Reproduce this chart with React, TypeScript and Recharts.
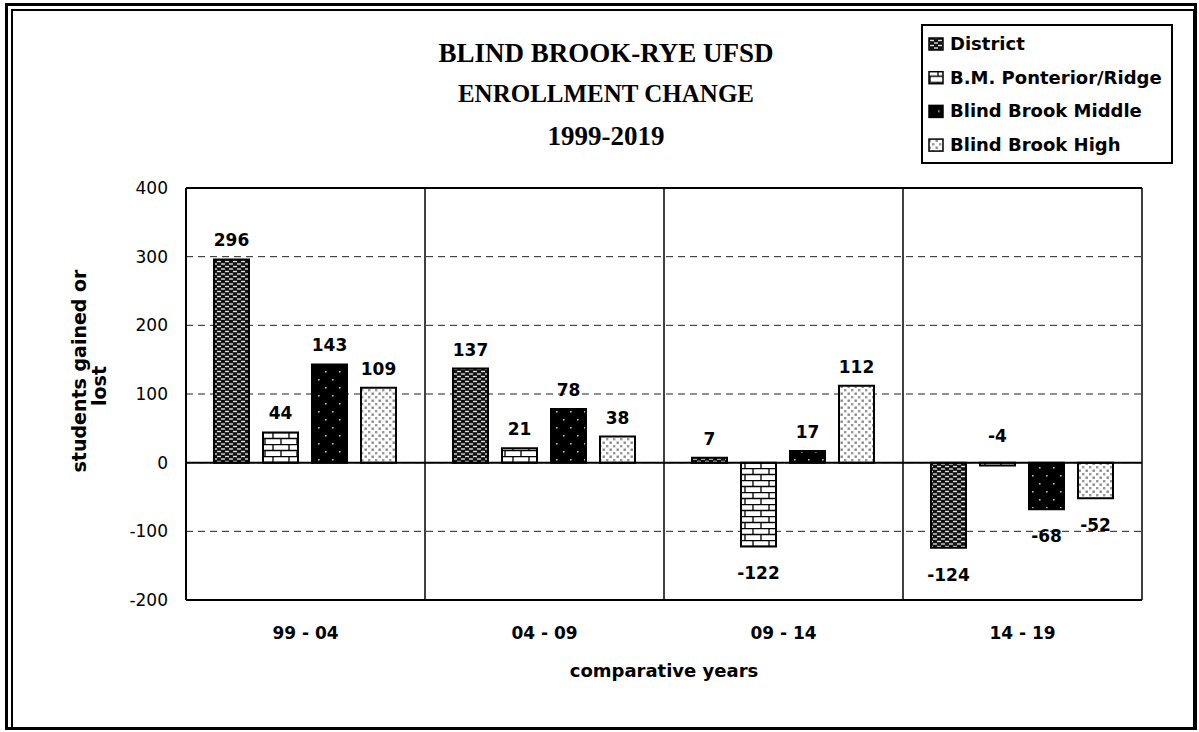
import {
    BarChart,
    Bar,
    XAxis,
    YAxis,
    CartesianGrid,
    ReferenceLine,
    LabelList,
    Legend
} from 'recharts';

const periods = ['99 - 04', '04 - 09', '09 - 14', '14 - 19'];
const district = [296, 137, 7, -124];
const ponterior = [44, 21, -122, -4];
const middle = [143, 78, 17, -68];
const high = [109, 38, 112, -52];
const yTicks = [-200, -100, 0, 100, 200, 300, 400];

const titleLines = ['BLIND BROOK-RYE UFSD', 'ENROLLMENT CHANGE', '1999-2019'];
const seriesNames = ['District', 'B.M. Ponterior/Ridge', 'Blind Brook Middle', 'Blind Brook High'];
const seriesKeys = ['district', 'ponterior', 'middle', 'high'];
const seriesFills = ['url(#patDistrict)', 'url(#patBrick)', 'url(#patMiddle)', 'url(#patHigh)'];

const data = periods.map((p, i) => ({
    period: p,
    district: district[i],
    ponterior: ponterior[i],
    middle: middle[i],
    high: high[i],
}));

const sans = '"DejaVu Sans", "Liberation Sans", Arial, sans-serif';
const serif = '"Liberation Serif", "Times New Roman", serif';

function ValueLabel(props: any) {
    const { x, y, width, height, value } = props;
    const top = Math.min(y, y + height);
    const bottom = Math.max(y, y + height);
    const cx = x + width / 2;
    let ty = top - 13;
    if (value < 0) {
        // tiny negative values get their label above the zero line
        ty = value > -10 ? top - 21 : bottom + 33;
    }
    return (
        <text x={cx} y={ty} textAnchor="middle" fontFamily={sans} fontWeight="bold" fontSize={17} fill="#000">
            {value}
        </text>
    );
}

function YLabel() {
    return (
        <g fontFamily={sans} fontWeight="bold" fontSize={19} fill="#000">
            <text x={86} y={371} textAnchor="middle" transform="rotate(-90, 86, 371)">students gained or</text>
            <text x={106} y={386} textAnchor="middle" transform="rotate(-90, 106, 386)">lost</text>
        </g>
    );
}

function LegendBox() {
    return (
        <svg width={252} height={140}>
            <rect x={1} y={1} width={250} height={138} fill="#fff" stroke="#000" strokeWidth={2} />
            {seriesNames.map((name, i) => (
                <g key={name} transform={`translate(0, ${i * 33.7})`}>
                    <rect x={8} y={14} width={14} height={12} fill={seriesFills[i]} stroke="#000" strokeWidth={1.5} />
                    <text x={29} y={26} fontFamily={sans} fontWeight="bold" fontSize={18} fill="#000">{name}</text>
                </g>
            ))}
        </svg>
    );
}

export default function App() {
    return (
        <div style={{ position: 'absolute', left: 0, top: 0, width: 1199, height: 732, background: '#fff' }}>
            {/* double frame */}
            <div style={{ position: 'absolute', left: 5, top: 3, width: 1186, height: 721, border: '3px solid #000' }} />
            <div style={{ position: 'absolute', left: 11, top: 9, width: 1180, height: 716, border: '2px solid #000' }} />

            <svg style={{ position: 'absolute', left: 0, top: 0 }} width={1199} height={170}>
                <g fontFamily={serif} fontWeight="bold" fill="#000" textAnchor="middle">
                    <text x={606} y={62} fontSize={27}>{titleLines[0]}</text>
                    <text x={606} y={102} fontSize={25}>{titleLines[1]}</text>
                    <text x={606} y={145} fontSize={27}>{titleLines[2]}</text>
                </g>
            </svg>

            <div style={{ position: 'absolute', left: 0, top: 0 }}>
                <BarChart
                    width={1199}
                    height={732}
                    data={data}
                    margin={{ top: 188, right: 57, bottom: 52, left: 126 }}
                    barCategoryGap={28}
                    barGap={14}
                >
                    <defs>
                        <pattern id="patDistrict" width={8} height={5} patternUnits="userSpaceOnUse">
                            <rect width={8} height={5} fill="#111" />
                            <rect x={1} y={0.8} width={4} height={1.4} fill="#ddd" />
                            <rect x={5} y={3.3} width={4} height={1.4} fill="#ddd" />
                            <rect x={-3} y={3.3} width={4} height={1.4} fill="#ddd" />
                        </pattern>
                        <pattern id="patBrick" width={16} height={12} patternUnits="userSpaceOnUse">
                            <rect width={16} height={12} fill="#fff" />
                            <path d="M0 0.5 H16 M0 6.5 H16 M1 0 V6 M9 6 V12" stroke="#000" strokeWidth={1.3} />
                        </pattern>
                        <pattern id="patMiddle" width={14} height={16} patternUnits="userSpaceOnUse">
                            <rect width={14} height={16} fill="#000" />
                            <rect x={3} y={3} width={1.6} height={1.6} fill="#bbb" />
                            <rect x={10} y={11} width={1.6} height={1.6} fill="#bbb" />
                        </pattern>
                        <pattern id="patHigh" width={7} height={7} patternUnits="userSpaceOnUse">
                            <rect width={7} height={7} fill="#fff" />
                            <rect x={0.5} y={0.5} width={2.4} height={2.4} fill="#888" />
                            <rect x={4} y={4} width={2.4} height={2.4} fill="#999" />
                        </pattern>
                    </defs>
                    <CartesianGrid vertical={false} stroke="#222" strokeDasharray="7 5" />
                    <CartesianGrid
                        horizontal={false}
                        stroke="#000"
                        strokeWidth={1.5}
                        verticalCoordinatesGenerator={({ offset }: any) =>
                            periods.map((_, i) => offset.left + (offset.width * (i + 1)) / periods.length)
                        }
                    />
                    <XAxis
                        dataKey="period"
                        height={80}
                        tickSize={0}
                        tickMargin={27}
                        axisLine={{ stroke: '#000', strokeWidth: 2 }}
                        tick={{ fill: '#000', fontFamily: sans, fontWeight: 'bold', fontSize: 17 }}
                        label={{
                            value: 'comparative years',
                            position: 'insideBottom',
                            offset: 3,
                            fill: '#000',
                            fontFamily: sans,
                            fontWeight: 'bold',
                            fontSize: 18,
                        }}
                    />
                    <YAxis
                        width={60}
                        domain={[-200, 400]}
                        ticks={yTicks}
                        tickSize={0}
                        tickMargin={18}
                        axisLine={{ stroke: '#000', strokeWidth: 2 }}
                        tick={{ fill: '#000', fontFamily: sans, fontSize: 17 }}
                        label={{ content: () => <YLabel /> }}
                    />
                    <ReferenceLine y={400} stroke="#000" strokeWidth={2} />
                    <Legend
                        layout="vertical"
                        align="center"
                        verticalAlign="middle"
                        wrapperStyle={{ position: 'absolute', left: 921, top: 24, width: 252, height: 140 }}
                        content={<LegendBox />}
                    />
                    {seriesKeys.map((key, i) => (
                        <Bar
                            key={key}
                            dataKey={key}
                            name={seriesNames[i]}
                            fill={seriesFills[i]}
                            stroke="#000"
                            strokeWidth={2}
                            isAnimationActive={false}
                        >
                            <LabelList dataKey={key} content={<ValueLabel />} />
                        </Bar>
                    ))}
                    <ReferenceLine y={0} stroke="#000" strokeWidth={2} />
                </BarChart>
            </div>
        </div>
    );
}
